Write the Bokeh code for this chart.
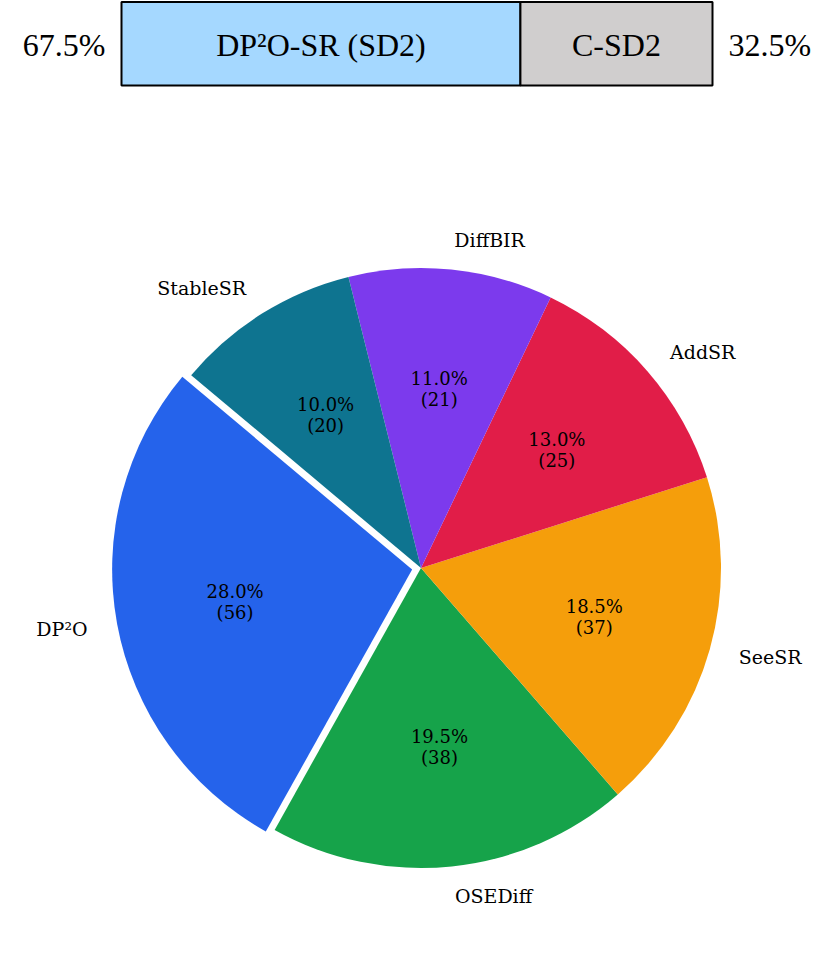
import math
from bokeh.plotting import figure
from bokeh.models import Range1d, ColumnDataSource
from bokeh.core.properties import value
from bokeh.embed import file_html
from bokeh.resources import INLINE

# ---- data ----
methods = ["DP²O", "OSEDiff", "SeeSR", "AddSR", "DiffBIR", "StableSR"]
shares = [28.0, 19.5, 18.5, 13.0, 11.0, 10.0]
counts = [56, 38, 37, 25, 21, 20]
pie_colors = ["#2563EB", "#16A34A", "#F59E0B", "#E11D48", "#7C3AED", "#0E7490"]
explode = [0.03, 0.0, 0.0, 0.0, 0.0, 0.0]

bar_labels = ["DP²O-SR (SD2)", "C-SD2"]
bar_shares = [67.5, 32.5]
bar_colors = ["#A5D8FF", "#D0CECE"]

# ---- layout (pixel coordinates; y measured upward from bottom of picture) ----
W, H = 819, 964
p = figure(width=W, height=H, x_range=Range1d(0, 819), y_range=Range1d(16, 980),
           output_backend="svg", toolbar_location=None, min_border=0,
           outline_line_color=None, background_fill_color="white",
           border_fill_color="white")
p.axis.visible = False
p.grid.visible = False

# ---- top stacked bar ----
BX0, BX1 = 121.0, 712.0
BTOP, BBOT = 980 - 1.5, 980 - 85
tot = sum(bar_shares)
lefts, rights = [], []
acc = BX0
for s in bar_shares:
    lefts.append(acc)
    acc += (BX1 - BX0) * s / tot
    rights.append(acc)
ty = 980 - 44
bar_src = ColumnDataSource(dict(left=lefts, right=rights,
                                top=[BTOP] * 2, bottom=[BBOT] * 2,
                                color=bar_colors, label=bar_labels,
                                cx=[(l + r) / 2 for l, r in zip(lefts, rights)],
                                cy=[ty] * 2))
p.quad(left="left", right="right", top="top", bottom="bottom", source=bar_src,
       fill_color="color", line_color="black", line_width=2)
p.text(x="cx", y="cy", text="label", source=bar_src, text_align="center",
       text_baseline="middle", text_font=value("Liberation Serif"),
       text_font_size="32px", text_color="black")
p.text(x=[BX0 - 16], y=[ty], text=[f"{bar_shares[0]:.1f}%"], text_align="right",
       text_baseline="middle", text_font=value("Liberation Serif"),
       text_font_size="32px", text_color="black")
p.text(x=[BX1 + 16], y=[ty], text=[f"{bar_shares[1]:.1f}%"], text_align="left",
       text_baseline="middle", text_font=value("Liberation Serif"),
       text_font_size="32px", text_color="black")

# ---- pie ----
CX, CY, R = 420.5, 980 - 567.5, 300.0
START = 140.0
total = sum(shares)
wx, wy, sa, ea = [], [], [], []
lx, ly, lal, px, py, ptxt = [], [], [], [], [], []
theta = START
for name, s, c, e in zip(methods, shares, counts, explode):
    span = 360.0 * s / total
    t0, t1 = theta, theta + span
    tm = math.radians((t0 + t1) / 2)
    ox = CX + e * R * math.cos(tm)
    oy = CY + e * R * math.sin(tm)
    wx.append(ox); wy.append(oy)
    sa.append(math.radians(t0)); ea.append(math.radians(t1))
    xt = 1.1 * R * math.cos(tm)
    lx.append(ox + xt); ly.append(oy + 1.1 * R * math.sin(tm))
    lal.append("left" if xt > 0 else "right")
    px.append(ox + 0.6 * R * math.cos(tm)); py.append(oy + 0.6 * R * math.sin(tm))
    ptxt.append(f"{s:.1f}%\n({c})")
    theta = t1

p.wedge(x=wx, y=wy, radius=R, start_angle=sa, end_angle=ea,
        direction="anticlock", fill_color=pie_colors, line_color=None)

lab_src = ColumnDataSource(dict(x=lx, y=ly, text=methods, align=lal))
p.text(x="x", y="y", text="text", text_align="align", source=lab_src,
       text_baseline="middle", text_font=value("DejaVu Serif"),
       text_font_size="19px", text_color="black")
p.text(x=px, y=py, text=ptxt, text_align="center", text_baseline="middle",
       text_font=value("DejaVu Serif"), text_font_size="18px",
       text_color="black", text_line_height=1.0)

open("out.html", "w").write(file_html(p, INLINE))
